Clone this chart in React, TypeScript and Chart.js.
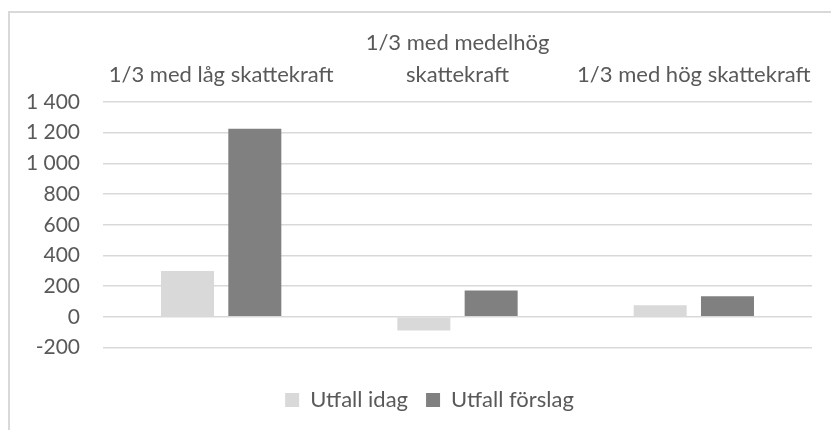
import React, { useEffect, useRef } from "react";
import { Chart, registerables } from "chart.js";

Chart.register(...registerables);

const categories: string[][] = [
  ["1/3 med låg skattekraft"],
  ["1/3 med medelhög", "skattekraft"],
  ["1/3 med hög skattekraft"],
];
const seriesNames = ["Utfall idag", "Utfall förslag"];
const utfallIdag = [298, -90, 76];
const utfallForslag = [1225, 171, 134];
const yMin = -200;
const yMax = 1400;
const yStep = 200;

const TEXT = "#595959";
const GRID = "#d9d9d9";
const FONT = "Lato";

function fmt(v: number): string {
  const s = Math.abs(v).toString().replace(/\B(?=(\d{3})+(?!\d))/g, " ");
  return (v < 0 ? "-" : "") + s;
}

export default function App() {
  const ref = useRef<HTMLCanvasElement | null>(null);

  useEffect(() => {
    if (!ref.current) return;
    const chart = new Chart(ref.current, {
      type: "bar",
      data: {
        labels: categories,
        datasets: [
          {
            label: seriesNames[0],
            data: utfallIdag,
            backgroundColor: "#d9d9d9",
            borderWidth: 0,
            categoryPercentage: 0.5696,
            barPercentage: 0.7875,
            xAxisID: "x",
            yAxisID: "y",
          },
          {
            label: seriesNames[1],
            data: utfallForslag,
            backgroundColor: "#808080",
            borderWidth: 0,
            categoryPercentage: 0.5696,
            barPercentage: 0.7875,
            xAxisID: "x",
            yAxisID: "y",
          },
        ],
      },
      options: {
        animation: false,
        responsive: false,
        maintainAspectRatio: false,
        layout: { padding: { left: 0, right: 0, top: 0, bottom: 9 } },
        plugins: {
          tooltip: { enabled: false },
          legend: {
            position: "bottom",
            labels: {
              color: TEXT,
              font: { family: FONT, size: 22 },
              boxWidth: 14,
              boxHeight: 14,
              padding: 18,
            },
          },
        },
        scales: {
          x: {
            type: "category",
            position: "top",
            grid: { display: false, drawTicks: false },
            border: { display: false },
            ticks: {
              color: TEXT,
              font: { family: FONT, size: 22, lineHeight: 1.48 },
              padding: 10.75,
              maxRotation: 0,
              autoSkip: false,
            },
            afterFit: (s: any) => {
              s.height = 91;
            },
          },
          xb: {
            type: "category",
            position: "bottom",
            labels: ["", "", ""],
            grid: { display: false, drawTicks: false },
            border: { display: false },
            ticks: { display: false },
            afterFit: (s: any) => {
              s.height = 23.5;
            },
          },
          y: {
            min: yMin,
            max: yMax,
            grid: { color: GRID, lineWidth: 1.5, drawTicks: false },
            border: { display: false },
            ticks: {
              stepSize: yStep,
              color: TEXT,
              font: { family: FONT, size: 21 },
              padding: 23,
              callback: (v: any) => fmt(Number(v)),
            },
            afterFit: (s: any) => {
              s.width = 95;
            },
          },
          yr: {
            type: "linear",
            position: "right",
            min: yMin,
            max: yMax,
            grid: { display: false, drawTicks: false },
            border: { display: false },
            ticks: { display: false },
            afterFit: (s: any) => {
              s.width = 39;
            },
          },
        },
      } as any,
    });
    return () => chart.destroy();
  }, []);

  return (
    <div
      style={{
        position: "fixed",
        left: 0,
        top: 0,
        width: 831,
        height: 430,
        overflow: "hidden",
        background: "#fff",
      }}
    >
      <div
        style={{
          position: "absolute",
          left: 8,
          top: 11,
          width: 900,
          height: 500,
          borderTop: `2px solid ${GRID}`,
          borderLeft: `2px solid ${GRID}`,
          boxSizing: "border-box",
        }}
      />
      <canvas
        ref={ref}
        width={843}
        height={419}
        style={{ position: "absolute", left: 8, top: 11, width: 843, height: 419 }}
      />
    </div>
  );
}
